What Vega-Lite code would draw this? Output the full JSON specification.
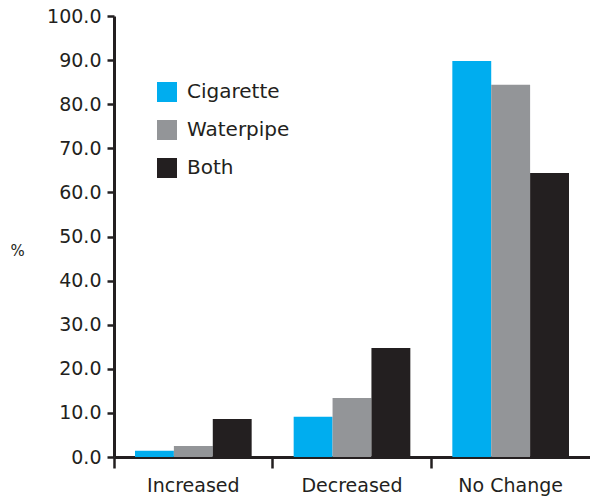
{
  "$schema": "https://vega.github.io/schema/vega-lite/v6.json",
  "width": 476,
  "height": 441,
  "autosize": {"type": "none"},
  "padding": {"left": 114, "top": 16, "right": 0, "bottom": 42},
  "background": "white",
  "config": {
    "view": {"stroke": null},
    "font": "DejaVu Sans"
  },
  "data": {
    "values": [
      {"change": "Increased", "product": "Cigarette", "pct": 1.4},
      {"change": "Increased", "product": "Waterpipe", "pct": 2.5},
      {"change": "Increased", "product": "Both", "pct": 8.6},
      {"change": "Decreased", "product": "Cigarette", "pct": 9.1},
      {"change": "Decreased", "product": "Waterpipe", "pct": 13.4},
      {"change": "Decreased", "product": "Both", "pct": 24.7},
      {"change": "No Change", "product": "Cigarette", "pct": 89.8},
      {"change": "No Change", "product": "Waterpipe", "pct": 84.4},
      {"change": "No Change", "product": "Both", "pct": 64.4}
    ]
  },
  "mark": {"type": "bar"},
  "encoding": {
    "x": {
      "field": "change",
      "type": "nominal",
      "sort": null,
      "scale": {"paddingInner": 0, "paddingOuter": 0},
      "axis": {
        "title": null,
        "labelAngle": 0,
        "bandPosition": 0,
        "labelFontSize": 19,
        "labelColor": "#231F20",
        "labelPadding": 8,
        "tickSize": 11,
        "tickWidth": 2.5,
        "tickColor": "#231F20",
        "domainColor": "#231F20",
        "domainWidth": 3
      }
    },
    "xOffset": {
      "field": "product",
      "type": "nominal",
      "sort": ["Cigarette", "Waterpipe", "Both"],
      "scale": {"paddingInner": 0, "paddingOuter": 0.54}
    },
    "y": {
      "field": "pct",
      "type": "quantitative",
      "scale": {"domain": [0, 100], "nice": false},
      "axis": {
        "values": [0, 10, 20, 30, 40, 50, 60, 70, 80, 90, 100],
        "format": ".1f",
        "grid": false,
        "title": "%",
        "titleAngle": 0,
        "titleX": -97,
        "titleY": 234,
        "titleAlign": "center",
        "titleBaseline": "middle",
        "titleFontSize": 15,
        "titleFontWeight": "normal",
        "titleColor": "#231F20",
        "labelFontSize": 19,
        "labelColor": "#231F20",
        "labelPadding": 6,
        "tickSize": 7,
        "tickWidth": 2.5,
        "tickColor": "#231F20",
        "domainColor": "#231F20",
        "domainWidth": 3
      }
    },
    "color": {
      "field": "product",
      "type": "nominal",
      "sort": ["Cigarette", "Waterpipe", "Both"],
      "scale": {
        "domain": ["Cigarette", "Waterpipe", "Both"],
        "range": ["#00ADEF", "#939598", "#231F20"]
      },
      "legend": {
        "title": null,
        "orient": "none",
        "legendX": 43,
        "legendY": 66,
        "symbolType": "square",
        "symbolSize": 400,
        "symbolStrokeWidth": 0,
        "labelFontSize": 20,
        "labelColor": "#231F20",
        "labelOffset": 10,
        "rowPadding": 18
      }
    }
  }
}
